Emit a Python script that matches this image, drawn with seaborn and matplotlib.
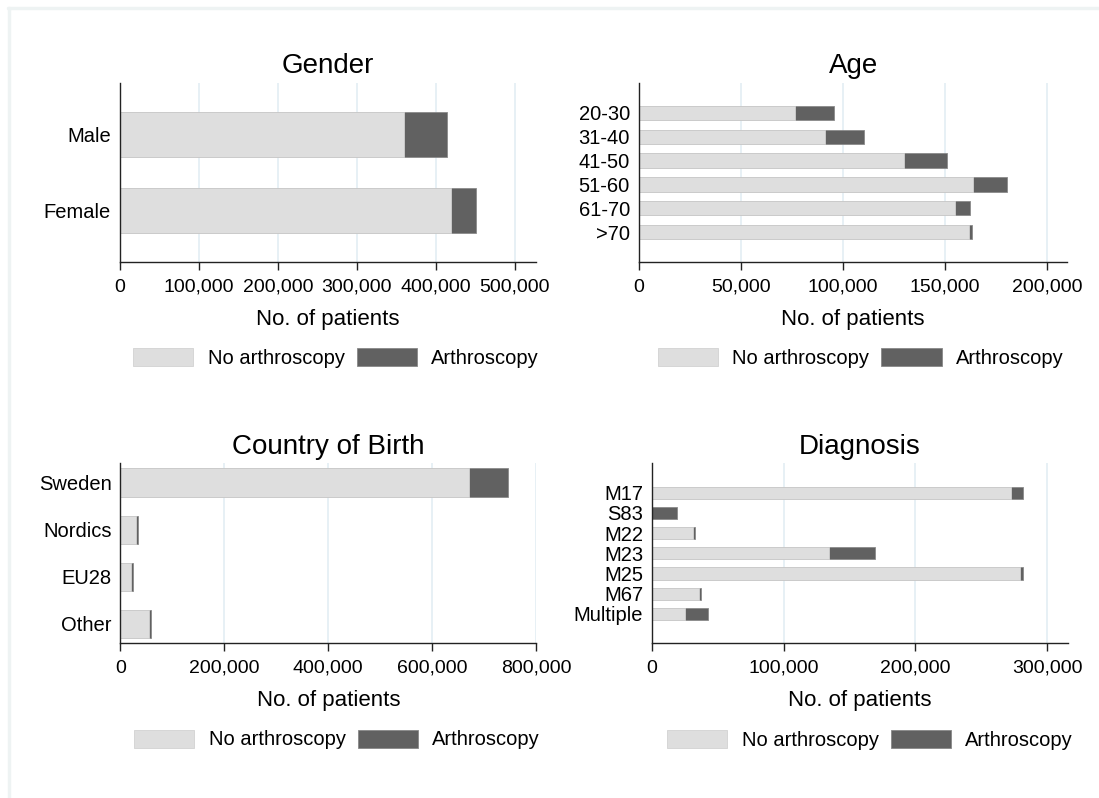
import pandas as pd
import matplotlib
matplotlib.use('Agg')
import matplotlib.pyplot as plt
import matplotlib.patches as mpatches
from matplotlib.lines import Line2D
from matplotlib.ticker import StrMethodFormatter
import seaborn as sns

# Data (number of patients)
gender_cats = ['Male', 'Female']
gender_no = [360000, 419000]
gender_yes = [54000, 32500]

age_cats = ['20-30', '31-40', '41-50', '51-60', '61-70', '>70']
age_no = [76400, 91100, 129700, 163700, 155100, 161700]
age_yes = [19400, 19300, 21300, 16900, 6900, 1300]

country_cats = ['Sweden', 'Nordics', 'EU28', 'Other']
country_no = [670000, 29000, 19500, 55000]
country_yes = [75000, 4000, 4000, 4300]

diag_cats = ['M17', 'S83', 'M22', 'M23', 'M25', 'M67', 'Multiple']
diag_no = [272800, 0, 31100, 134400, 279500, 35700, 24700]
diag_yes = [8500, 19100, 1600, 35200, 2100, 1200, 17900]

legend_labels = ['No arthroscopy', 'Arthroscopy']
light = '#dedede'
dark = '#616161'

sns.set_style('white')
plt.rcParams['font.family'] = ['Liberation Sans', 'DejaVu Sans']
plt.rcParams['text.color'] = 'black'
plt.rcParams['axes.labelcolor'] = 'black'
plt.rcParams['xtick.color'] = 'black'
plt.rcParams['ytick.color'] = 'black'

fig = plt.figure(figsize=(10.99, 7.98), dpi=100)


def panel(rect, title, cats, no, yes, xmax, xticks, ypad, legend_xy):
    ax = fig.add_axes(rect)
    df = pd.DataFrame({'cat': cats, 'no': no, 'yes': yes})
    df['total'] = df['no'] + df['yes']
    # dark bar for the total, light bar laid on top for the non-arthroscopy part
    sns.barplot(data=df, x='total', y='cat', color=dark, width=0.6, saturation=1,
                edgecolor='#8a8a8a', linewidth=0.6, ax=ax)
    sns.barplot(data=df, x='no', y='cat', color=light, width=0.6, saturation=1,
                edgecolor='#cfcfcf', linewidth=0.6, ax=ax)
    n = len(cats)
    ax.set_ylim(n - 1 + ypad, -ypad)
    ax.set_xlim(0, xmax)
    ax.set_xticks(xticks)
    ax.xaxis.set_major_formatter(StrMethodFormatter('{x:,.0f}'))
    ax.grid(axis='x', color='#e3edf4', linewidth=1.2)
    ax.set_axisbelow(True)
    for side in ['top', 'right']:
        ax.spines[side].set_visible(False)
    for side in ['left', 'bottom']:
        ax.spines[side].set_color('#222222')
        ax.spines[side].set_linewidth(1.0)
    ax.tick_params(axis='x', bottom=True, length=5.5, width=1, color='#222222',
                   labelsize=14, pad=6.5)
    ax.tick_params(axis='y', left=False, labelsize=14.5, pad=3)
    ax.set_title(title, fontsize=20, pad=7)
    ax.set_xlabel('No. of patients', fontsize=16, labelpad=9.5)
    ax.set_ylabel('')
    handles = [mpatches.Patch(facecolor=light, edgecolor='#d2d2d2', linewidth=0.6),
               mpatches.Patch(facecolor=dark, edgecolor='#888888', linewidth=0.6)]
    fig.legend(handles, legend_labels, loc='center', bbox_to_anchor=legend_xy,
               ncol=2, frameon=False, fontsize=14.5, handlelength=3.0,
               handleheight=1.0, handletextpad=0.7, columnspacing=0.6)
    return ax


panel([0.1092, 0.6717, 0.3785, 0.2243], 'Gender', gender_cats, gender_no, gender_yes,
      527000, [0, 100000, 200000, 300000, 400000, 500000], 0.69, (0.3057, 0.5514))
panel([0.5814, 0.6717, 0.3899, 0.2243], 'Age', age_cats, age_no, age_yes,
      210000, [0, 50000, 100000, 150000, 200000], 1.25, (0.7832, 0.5514))
panel([0.1096, 0.1939, 0.3782, 0.2256], 'Country of Birth', country_cats, country_no,
      country_yes, 800000, [0, 200000, 400000, 600000, 800000], 0.41, (0.3066, 0.0733))
panel([0.5933, 0.1939, 0.3781, 0.2256], 'Diagnosis', diag_cats, diag_no, diag_yes,
      315500, [0, 100000, 200000, 300000], 1.45, (0.7916, 0.0727))

# faint frame along the top and left edges
fig.add_artist(Line2D([8 / 1099, 1], [1 - 8 / 798, 1 - 8 / 798], color='#eef3f3',
                      linewidth=2.5, transform=fig.transFigure))
fig.add_artist(Line2D([9 / 1099, 9 / 1099], [0, 1 - 8 / 798], color='#eef3f3',
                      linewidth=2.5, transform=fig.transFigure))

fig.savefig('out.png', dpi=100)
